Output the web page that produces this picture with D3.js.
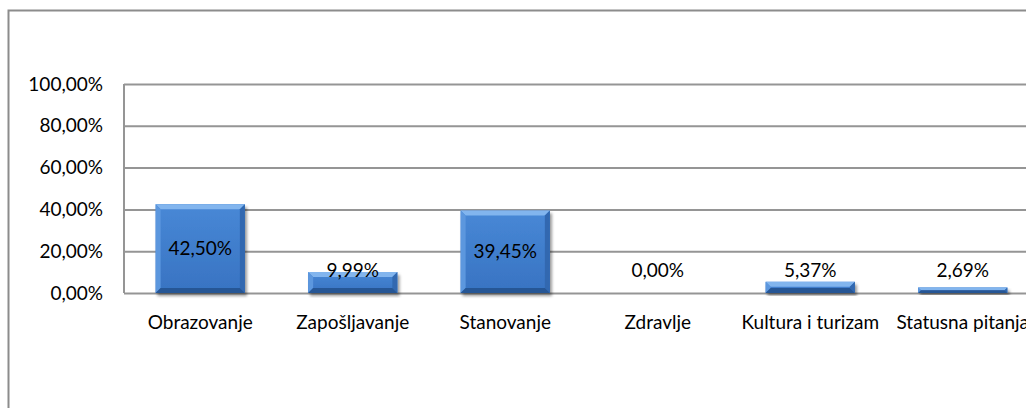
<!DOCTYPE html>
<html>
<head>
<meta charset="utf-8">
<script src="https://cdn.jsdelivr.net/npm/d3@7"></script>
<style>
  body { margin: 0; background: #fff; overflow: hidden; }
  text { font-family: Lato, "Open Sans", sans-serif; fill: #000; }
</style>
</head>
<body>
<div id="chart"></div>
<script>
// Chart data
const categories = ['Obrazovanje', 'Zapošljavanje', 'Stanovanje', 'Zdravlje', 'Kultura i turizam', 'Statusna pitanja'];
const values = [42.50, 9.99, 39.45, 0.00, 5.37, 2.69];
const yTicks = [0, 20, 40, 60, 80, 100];

const fmt = v => v.toFixed(2).replace('.', ',') + '%';

const svgWidth = 1026, svgHeight = 408;
const margin = { top: 84, left: 124 };
const plotHeight = 209;
const bandStep = 152.5;
const fontSize = '19px';

const svg = d3.select('#chart').append('svg')
    .attr('width', svgWidth)
    .attr('height', svgHeight);

// Outer chart border (runs off the right and bottom edges)
svg.append('rect')
    .attr('x', 8.5).attr('y', 10.5)
    .attr('width', 1100).attr('height', 500)
    .attr('fill', 'none')
    .attr('stroke', '#8c8c8c')
    .attr('stroke-width', 2);

const defs = svg.append('defs');

// Drop shadow for bars
const shadow = defs.append('filter').attr('id', 'shadow')
    .attr('x', '-10%').attr('y', '-10%').attr('width', '130%').attr('height', '130%');
shadow.append('feGaussianBlur').attr('in', 'SourceAlpha').attr('stdDeviation', 1.5);
shadow.append('feOffset').attr('dx', 1.5).attr('dy', 2.5).attr('result', 'off');
shadow.append('feComponentTransfer').append('feFuncA').attr('type', 'linear').attr('slope', 0.4);
const merge = shadow.append('feMerge');
merge.append('feMergeNode');
merge.append('feMergeNode').attr('in', 'SourceGraphic');

// Body gradient
const body = defs.append('linearGradient').attr('id', 'barBody')
    .attr('x1', '0%').attr('x2', '0%').attr('y1', '0%').attr('y2', '100%');
body.append('stop').attr('offset', '0%').attr('stop-color', '#4888d6');
body.append('stop').attr('offset', '100%').attr('stop-color', '#3873c2');

const g = svg.append('g').attr('transform', `translate(${margin.left},${margin.top})`);

const x = d3.scaleBand()
    .domain(categories)
    .range([0, bandStep * categories.length])
    .paddingInner(0.415)
    .paddingOuter(0.2075);

const y = d3.scaleLinear().domain([0, 100]).range([plotHeight, 0]);

// Gridlines
g.append('g')
    .call(d3.axisLeft(y).tickValues(yTicks).tickSize(-1000).tickFormat(''))
    .call(a => a.select('.domain').remove())
    .call(a => a.selectAll('line').attr('stroke', '#959595').attr('stroke-width', 2));

// Y axis line and labels
g.append('line')
    .attr('x1', 0).attr('x2', 0).attr('y1', 0).attr('y2', plotHeight)
    .attr('stroke', '#959595').attr('stroke-width', 2);

g.append('g')
    .selectAll('text')
    .data(yTicks)
    .enter()
    .append('text')
    .attr('x', -21)
    .attr('y', d => y(d))
    .attr('dy', '0.35em')
    .attr('text-anchor', 'end')
    .style('font-size', fontSize)
    .text(d => fmt(d));

// Bars with bevel
const bev = 5;
const bars = g.selectAll('.bar')
    .data(categories.map((c, i) => ({ c, v: values[i] })))
    .enter()
    .append('g')
    .attr('class', 'bar')
    .filter(d => d.v > 0);

bars.each(function (d) {
    const sel = d3.select(this).attr('filter', 'url(#shadow)');
    const x0 = x(d.c), w = x.bandwidth();
    const y0 = y(d.v), h = plotHeight - y0;
    const b = Math.min(bev, h / 2, w / 2);
    const x1 = x0 + w, y1 = y0 + h;

    sel.append('rect')
        .attr('x', x0).attr('y', y0).attr('width', w).attr('height', h)
        .attr('fill', 'url(#barBody)');
    // top bevel
    sel.append('polygon')
        .attr('points', [[x0, y0], [x1, y0], [x1 - b, y0 + b], [x0 + b, y0 + b]].join(' '))
        .attr('fill', '#82b5ee');
    // left bevel
    sel.append('polygon')
        .attr('points', [[x0, y0], [x0 + b, y0 + b], [x0 + b, y1 - b], [x0, y1]].join(' '))
        .attr('fill', '#5c97de');
    // right bevel
    sel.append('polygon')
        .attr('points', [[x1, y0], [x1, y1], [x1 - b, y1 - b], [x1 - b, y0 + b]].join(' '))
        .attr('fill', '#3068b0');
    // bottom bevel
    sel.append('polygon')
        .attr('points', [[x0, y1], [x0 + b, y1 - b], [x1 - b, y1 - b], [x1, y1]].join(' '))
        .attr('fill', '#285795');
});

// Value labels
g.selectAll('.val')
    .data(categories.map((c, i) => ({ c, v: values[i] })))
    .enter()
    .append('text')
    .attr('class', 'val')
    .attr('x', d => x(d.c) + x.bandwidth() / 2)
    .attr('y', d => Math.min((y(d.v) + plotHeight) / 2, plotHeight - 23))
    .attr('dy', '0.35em')
    .attr('text-anchor', 'middle')
    .style('font-size', fontSize)
    .text(d => fmt(d.v));

// Category labels
g.append('g')
    .selectAll('text')
    .data(categories)
    .enter()
    .append('text')
    .attr('x', d => x(d) + x.bandwidth() / 2)
    .attr('y', plotHeight + 29)
    .attr('dy', '0.35em')
    .attr('text-anchor', 'middle')
    .style('font-size', fontSize)
    .text(d => d);
</script>
</body>
</html>
